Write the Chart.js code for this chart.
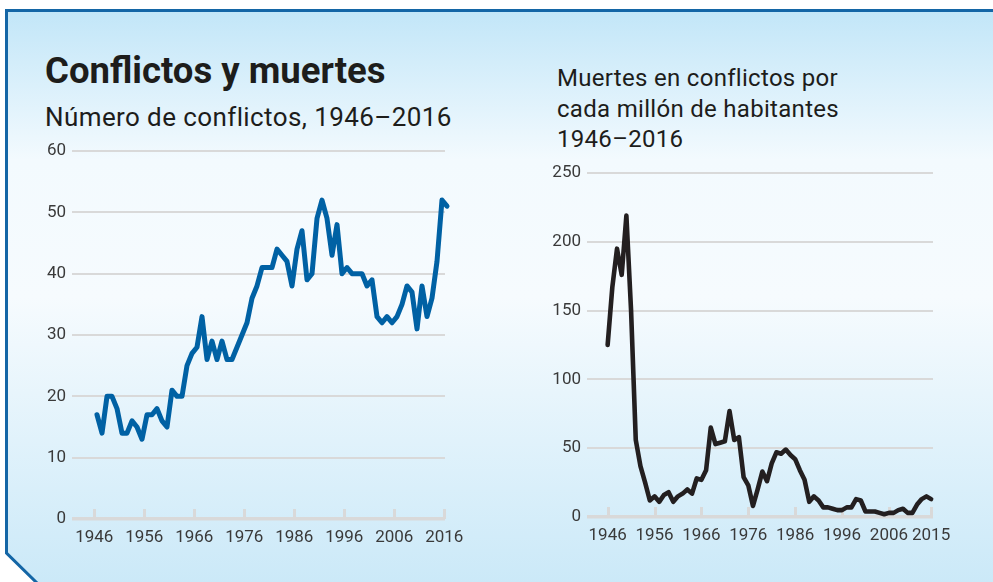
<!DOCTYPE html>
<html>
<head>
<meta charset="utf-8">
<script src="https://cdn.jsdelivr.net/npm/chart.js@4.4.1/dist/chart.umd.min.js"></script>
<style>
  html, body { margin: 0; padding: 0; background: #ffffff; }
  body { width: 993px; height: 582px; position: relative; overflow: hidden; font-family: Roboto, "Noto Sans", sans-serif; }
  #bg { position: absolute; left: 0; top: 0; }
  .txt { position: absolute; color: #1d1d1b; white-space: nowrap; }
  #title { left: 45px; top: 49px; font-size: 36.5px; font-weight: 700; letter-spacing: 0px; }
  #sub1 { left: 45px; top: 102px; font-size: 26px; font-weight: 400; letter-spacing: 0.4px; }
  #sub2 { left: 557px; top: 63px; font-size: 24px; line-height: 30.5px; font-weight: 400; letter-spacing: 0.3px; }
  .cv { position: absolute; }
  #c1wrap { left: 20px; top: 141px; width: 460px; height: 420px; }
  #c2wrap { left: 535px; top: 160px; width: 430px; height: 400px; }
</style>
</head>
<body>
<svg id="bg" width="993" height="582" viewBox="0 0 993 582">
  <defs>
    <linearGradient id="g" x1="0" y1="0" x2="0" y2="1">
      <stop offset="0" stop-color="#c2e6f8"/>
      <stop offset="0.26" stop-color="#f3fafe"/>
      <stop offset="0.5" stop-color="#f6fbfe"/>
      <stop offset="1" stop-color="#cbe9f8"/>
    </linearGradient>
  </defs>
  <polygon points="6,11 995,11 995,584 38,584 6,553" fill="url(#g)"/>
  <polyline points="995,10.5 6.5,10.5 6.5,553 38,584" fill="none" stroke="#1466a6" stroke-width="3"/>
</svg>

<div id="title" class="txt">Conflictos y muertes</div>
<div id="sub1" class="txt">Número de conflictos, 1946–2016</div>
<div id="sub2" class="txt">Muertes en conflictos por<br>cada millón de habitantes<br>1946–2016</div>

<div id="c1wrap" class="cv"><canvas id="c1"></canvas></div>
<div id="c2wrap" class="cv"><canvas id="c2"></canvas></div>

<script>
// ---- Data ----
const conflictYears = [1946,1947,1948,1949,1950,1951,1952,1953,1954,1955,1956,1957,1958,1959,1960,1961,1962,1963,1964,1965,1966,1967,1968,1969,1970,1971,1972,1973,1974,1975,1976,1977,1978,1979,1980,1981,1982,1983,1984,1985,1986,1987,1988,1989,1990,1991,1992,1993,1994,1995,1996,1997,1998,1999,2000,2001,2002,2003,2004,2005,2006,2007,2008,2009,2010,2011,2012,2013,2014,2015,2016];
const conflictCounts = [17,14,20,20,18,14,14,16,15,13,17,17,18,16,15,21,20,20,25,27,28,33,26,29,26,29,26,26,28,30,32,36,38,41,41,41,44,43,42,38,44,47,39,40,49,52,49,43,48,40,41,40,40,40,38,39,33,32,33,32,33,35,38,37,31,38,33,36,42,52,51];
const conflictTickLabels = [1946,1956,1966,1976,1986,1996,2006,2016];
const conflictYTicks = [0,10,20,30,40,50,60];

const deathYears = [1946,1947,1948,1949,1950,1951,1952,1953,1954,1955,1956,1957,1958,1959,1960,1961,1962,1963,1964,1965,1966,1967,1968,1969,1970,1971,1972,1973,1974,1975,1976,1977,1978,1979,1980,1981,1982,1983,1984,1985,1986,1987,1988,1989,1990,1991,1992,1993,1994,1995,1996,1997,1998,1999,2000,2001,2002,2003,2004,2005,2006,2007,2008,2009,2010,2011,2012,2013,2014,2015];
const deathRates = [125,167,195,176,219,150,56,37,25,12,15,11,16,18,11,15,17,20,17,28,27,34,65,53,54,55,77,56,58,29,23,8,20,33,26,39,47,46,49,45,42,34,27,11,15,12,7,7,6,5,5,7,7,13,12,4,4,4,3,2,3,3,5,6,3,3,9,13,15,13];
const deathTickLabels = [1946,1956,1966,1976,1986,1996,2006,2015];
const deathYTicks = [0,50,100,150,200,250];

// ---- Helpers ----
const FONT = "Roboto, 'Noto Sans', sans-serif";
const GRID = '#d9d9d9';
const TICKCOL = '#3a3a3a';

const tickMarks = {
  id: 'tickMarks',
  beforeDatasetsDraw(chart) {
    const xs = chart.scales.x, ctx = chart.ctx, b = chart.chartArea.bottom;
    ctx.save();
    ctx.strokeStyle = GRID;
    ctx.lineWidth = 3;
    xs.ticks.forEach(t => {
      const px = Math.round(xs.getPixelForValue(t.value)) + 0.5;
      ctx.beginPath();
      ctx.moveTo(px, b);
      ctx.lineTo(px, b - 10);
      ctx.stroke();
    });
    ctx.restore();
  }
};

function makeChart(id, years, values, xShift, color, lw, xMin, xMax, xTicks, yTicks, yWidth, xHeight, pad) {
  return new Chart(document.getElementById(id), {
    type: 'line',
    data: {
      datasets: [{
        data: years.map((y, i) => ({ x: y + xShift, y: values[i] })),
        borderColor: color,
        borderWidth: lw,
        borderJoinStyle: 'round',
        borderCapStyle: 'round',
        pointRadius: 0,
        tension: 0,
        clip: false,
        fill: false
      }]
    },
    options: {
      responsive: true,
      maintainAspectRatio: false,
      animation: false,
      layout: { padding: pad },
      plugins: { legend: { display: false }, tooltip: { enabled: false } },
      scales: {
        x: {
          type: 'linear',
          min: xMin, max: xMax,
          afterBuildTicks: s => { s.ticks = xTicks.map(v => ({ value: v })); },
          afterFit: s => { s.height = xHeight; s.paddingLeft = 0; s.paddingRight = 0; s.paddingTop = 0; s.paddingBottom = 0; },
          grid: { display: false, drawTicks: false },
          border: { display: false },
          ticks: {
            callback: v => String(v),
            color: TICKCOL,
            padding: 9,
            maxRotation: 0,
            autoSkip: false,
            font: { family: FONT, size: 17 }
          }
        },
        y: {
          min: yTicks[0], max: yTicks[yTicks.length - 1],
          afterBuildTicks: s => { s.ticks = yTicks.map(v => ({ value: v })); },
          afterFit: s => { s.width = yWidth; s.paddingTop = 0; s.paddingBottom = 0; s.paddingLeft = 0; s.paddingRight = 0; },
          grid: {
            color: GRID,
            lineWidth: c => (c.tick && c.tick.value === 0 ? 3.5 : 2),
            drawTicks: false
          },
          border: { display: false },
          ticks: {
            callback: v => String(v),
            color: TICKCOL,
            padding: 6,
            font: { family: FONT, size: 17 }
          }
        }
      }
    },
    plugins: [tickMarks]
  });
}

makeChart('c1', conflictYears, conflictCounts, 0.55, '#0061a4', 5,
  1941.55, 2016.15, conflictTickLabels, conflictYTicks, 52, 42,
  { top: 10, right: 35, left: 0, bottom: 0 });

makeChart('c2', deathYears, deathRates, 0, '#231f20', 4.6,
  1941.6, 2015.4, deathTickLabels, deathYTicks, 52, 43,
  { top: 13, right: 32, left: 0, bottom: 0 });
</script>
</body>
</html>
